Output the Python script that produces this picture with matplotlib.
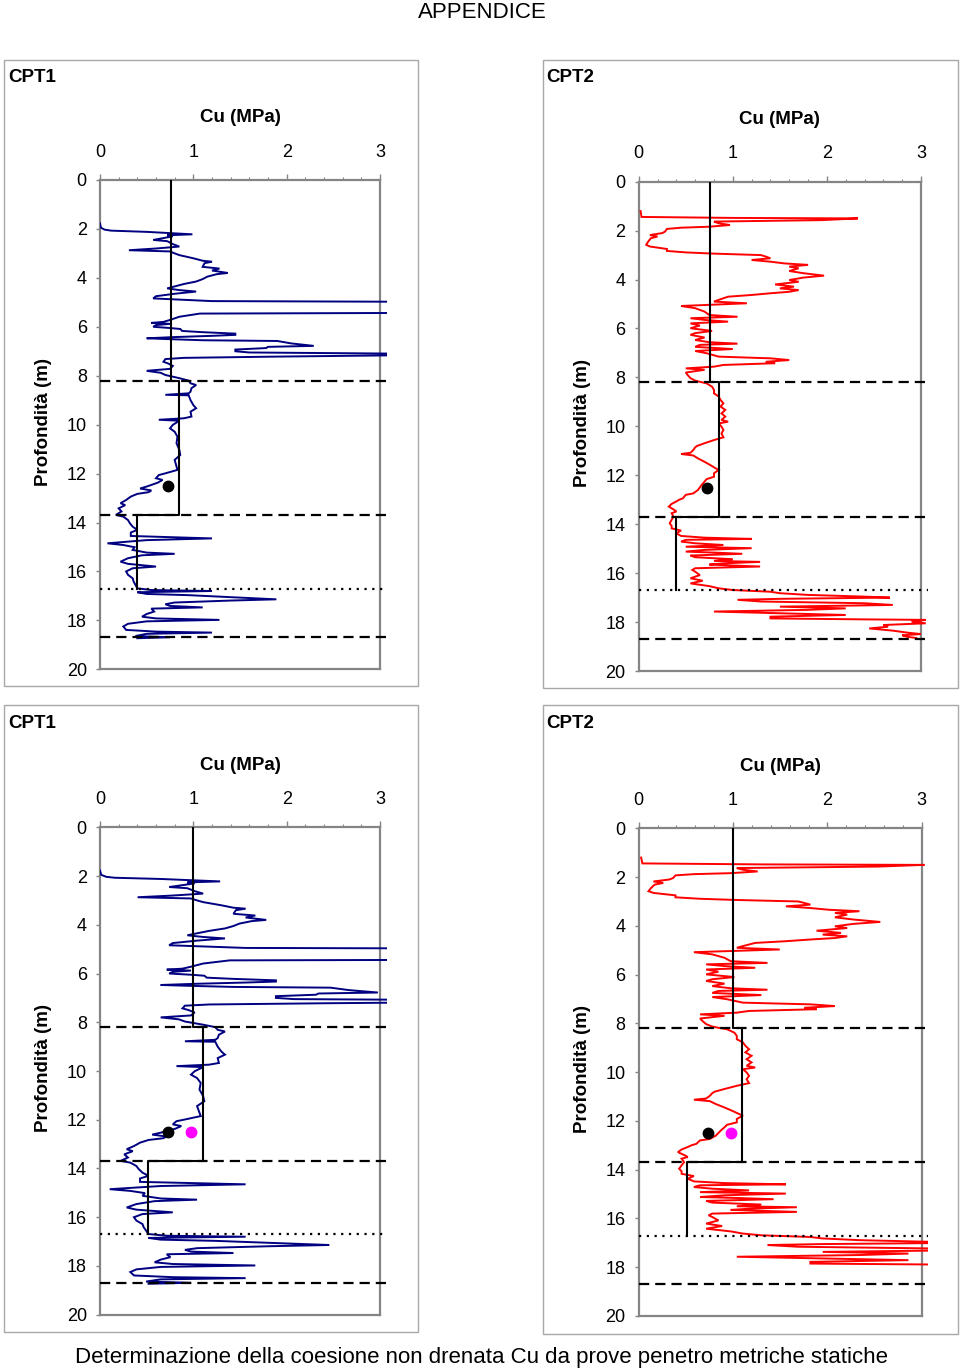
import matplotlib
matplotlib.use("Agg")
import matplotlib.pyplot as plt
import numpy as np

plt.rcParams['font.family'] = ['Liberation Sans', 'DejaVu Sans']

# ---------------- data ----------------
cpt1_depth = [1.77, 1.95, 2.03, 2.07, 2.12, 2.17, 2.22, 2.26, 2.3, 2.36, 2.45, 2.5, 2.62, 2.72, 2.8, 2.87,
              2.92, 3.0, 3.07, 3.2, 3.3, 3.34, 3.4, 3.55, 3.62, 3.7, 3.8, 3.85, 3.95, 4.05, 4.15, 4.25,
              4.35, 4.43, 4.5, 4.56, 4.65, 4.75, 4.84, 4.9, 4.95, 4.98, 5.2, 5.43, 5.46, 5.59, 5.72, 5.8,
              5.84, 5.88, 5.93, 6.0, 6.05, 6.09, 6.17, 6.22, 6.28, 6.33, 6.37, 6.42, 6.47, 6.5, 6.55, 6.58,
              6.62, 6.68, 6.78, 6.82, 6.87, 6.93, 7.0, 7.05, 7.1, 7.16, 7.22, 7.27, 7.32, 7.43, 7.5, 7.6,
              7.72, 7.8, 7.88, 7.97, 8.04, 8.1, 8.15, 8.2, 8.31, 8.38, 8.51, 8.65, 8.72, 8.78, 8.8, 9.0,
              9.2, 9.33, 9.47, 9.67, 9.74, 9.8, 9.84, 10.01, 10.15, 10.29, 10.49, 10.76, 11.03, 11.24, 11.44, 11.71,
              11.85, 11.99, 12.06, 12.19, 12.26, 12.37, 12.53, 12.61, 12.69, 12.76, 12.83, 12.94, 13.08, 13.21, 13.29, 13.42,
              13.55, 13.69, 13.76, 13.9, 14.03, 14.17, 14.3, 14.41, 14.55, 14.6, 14.65, 14.72, 14.78, 14.85, 14.92, 15.01,
              15.12, 15.23, 15.28, 15.34, 15.46, 15.6, 15.69, 15.8, 15.87, 16.0, 16.14, 16.28, 16.41, 16.55, 16.69, 16.76,
              16.8, 16.85, 16.92, 16.97, 17.05, 17.14, 17.19, 17.27, 17.34, 17.41, 17.47, 17.52, 17.64, 17.74, 17.85, 17.92,
              17.98, 18.04, 18.14, 18.25, 18.39, 18.46, 18.5, 18.55, 18.64, 18.69, 18.73]
cpt1_cu = [0.0, 0.01, 0.05, 0.12, 0.5, 0.75, 0.99, 0.72, 0.78, 0.7, 0.57, 0.72, 0.78, 0.85, 0.6, 0.31,
           0.75, 0.8, 0.85, 1.0, 1.1, 1.2, 1.12, 1.1, 1.28, 1.2, 1.37, 1.25, 1.15, 1.1, 1.03, 0.9,
           0.8, 0.72, 0.85, 1.03, 0.8, 0.6, 0.57, 0.9, 1.2, 3.5, 4.0, 3.6, 1.07, 0.85, 0.75, 0.68,
           0.55, 0.75, 0.6, 0.57, 0.75, 0.86, 0.88, 1.1, 1.45, 1.45, 1.2, 0.8, 0.5, 0.7, 1.1, 1.9,
           1.96, 2.05, 2.29, 1.8, 1.78, 1.45, 1.45, 1.6, 3.3, 3.3, 1.86, 0.9, 0.7, 0.68, 0.73, 0.78,
           0.75, 0.5, 0.65, 0.7, 0.78, 0.85, 0.9, 0.95, 0.97, 1.03, 0.98, 0.97, 0.95, 0.7, 0.95, 0.97,
           1.0, 1.03, 0.97, 0.98, 0.9, 0.63, 0.85, 0.78, 0.75, 0.8, 0.83, 0.82, 0.85, 0.86, 0.8, 0.82,
           0.83, 0.7, 0.63, 0.6, 0.67, 0.62, 0.5, 0.43, 0.55, 0.52, 0.4, 0.33, 0.28, 0.22, 0.27, 0.2,
           0.23, 0.17, 0.25, 0.3, 0.32, 0.35, 0.4, 0.33, 0.33, 0.75, 1.2, 0.5, 0.3, 0.08, 0.25, 0.37,
           0.35, 0.5, 0.8, 0.45, 0.3, 0.22, 0.3, 0.6, 0.35, 0.28, 0.3, 0.35, 0.36, 0.38, 0.4, 0.55,
           1.2, 0.4, 0.5, 0.95, 1.4, 1.89, 1.4, 0.8, 0.7, 0.75, 1.1, 0.55, 0.58, 0.5, 0.45, 0.6,
           1.28, 0.5, 0.3, 0.25, 0.28, 0.6, 1.2, 0.5, 0.38, 0.75, 0.4]

cpt2_depth = [1.2, 1.44, 1.48, 1.5, 1.57, 1.63, 1.7, 1.77, 1.84, 1.88, 1.93, 2.04, 2.1, 2.18, 2.24, 2.31,
              2.45, 2.58, 2.65, 2.75, 2.83, 2.89, 2.94, 3.0, 3.06, 3.13, 3.2, 3.27, 3.34, 3.4, 3.47, 3.54,
              3.65, 3.74, 3.81, 3.84, 3.92, 4.02, 4.09, 4.2, 4.29, 4.36, 4.43, 4.5, 4.56, 4.63, 4.7, 4.83,
              4.9, 4.97, 5.04, 5.08, 5.17, 5.24, 5.31, 5.45, 5.52, 5.58, 5.65, 5.72, 5.79, 5.88, 5.99, 6.1,
              6.19, 6.26, 6.37, 6.47, 6.56, 6.62, 6.67, 6.75, 6.84, 6.92, 7.01, 7.15, 7.22, 7.29, 7.36, 7.42,
              7.49, 7.56, 7.63, 7.69, 7.8, 7.9, 8.03, 8.13, 8.18, 8.24, 8.38, 8.51, 8.65, 8.78, 8.92, 9.06,
              9.19, 9.33, 9.47, 9.6, 9.74, 9.81, 9.88, 10.01, 10.15, 10.29, 10.45, 10.56, 10.69, 10.8, 10.86, 10.97,
              11.08, 11.13, 11.19, 11.31, 11.45, 11.58, 11.72, 11.78, 11.92, 12.06, 12.16, 12.26, 12.39, 12.6, 12.74, 12.8,
              12.94, 13.0, 13.07, 13.17, 13.28, 13.42, 13.48, 13.55, 13.69, 13.82, 13.96, 14.07, 14.17, 14.26, 14.37, 14.48,
              14.55, 14.6, 14.64, 14.71, 14.78, 14.85, 14.92, 14.98, 15.05, 15.12, 15.16, 15.21, 15.28, 15.35, 15.43, 15.5,
              15.54, 15.6, 15.65, 15.73, 15.8, 15.87, 15.94, 16.08, 16.21, 16.31, 16.42, 16.53, 16.62, 16.69, 16.76, 16.82,
              16.89, 16.96, 17.0, 17.05, 17.09, 17.16, 17.23, 17.3, 17.37, 17.44, 17.5, 17.57, 17.64, 17.71, 17.78, 17.85,
              17.89, 17.91, 17.98, 18.05, 18.12, 18.19, 18.26, 18.35, 18.43, 18.49, 18.54, 18.6, 18.65]
cpt2_cu = [0.02, 0.03, 1.0, 2.33, 1.95, 0.8, 0.85, 0.97, 0.75, 0.45, 0.3, 0.28, 0.25, 0.12, 0.2, 0.13,
           0.1, 0.08, 0.12, 0.3, 0.3, 0.5, 0.8, 1.3, 1.35, 1.4, 1.2, 1.4, 1.55, 1.8, 1.6, 1.7,
           1.6, 1.75, 1.9, 1.97, 1.75, 1.6, 1.7, 1.45, 1.65, 1.5, 1.7, 1.6, 1.4, 1.2, 0.95, 0.85,
           0.8, 1.15, 0.7, 0.45, 0.6, 0.65, 0.7, 0.75, 1.05, 0.55, 0.7, 0.95, 0.55, 0.65, 0.55, 0.78,
           0.6, 0.55, 0.7, 0.6, 0.75, 1.05, 0.65, 0.6, 1.0, 0.6, 0.72, 0.85, 1.4, 1.6, 1.35, 1.45,
           0.9, 0.8, 0.5, 0.7, 0.5, 0.52, 0.55, 0.6, 0.65, 0.72, 0.78, 0.8, 0.8, 0.85, 0.87, 0.9,
           0.87, 0.92, 0.88, 0.92, 0.88, 0.95, 0.85, 0.88, 0.9, 0.88, 0.9, 0.8, 0.7, 0.62, 0.6, 0.58,
           0.55, 0.45, 0.58, 0.63, 0.7, 0.76, 0.82, 0.85, 0.8, 0.8, 0.72, 0.7, 0.67, 0.63, 0.58, 0.5,
           0.47, 0.43, 0.4, 0.35, 0.32, 0.38, 0.4, 0.35, 0.37, 0.35, 0.33, 0.35, 0.35, 0.45, 0.4, 0.45,
           0.7, 1.2, 0.5, 0.45, 0.6, 0.9, 0.5, 1.2, 0.7, 0.5, 0.8, 1.1, 0.55, 0.6, 1.0, 0.8,
           1.29, 0.9, 0.75, 1.29, 0.6, 0.57, 0.6, 0.65, 0.55, 0.68, 0.55, 0.75, 0.85, 1.0, 1.4, 1.5,
           1.8, 2.4, 2.67, 1.5, 1.05, 1.3, 2.4, 2.7, 1.5, 2.2, 1.8, 0.8, 1.5, 2.2, 1.4, 1.4,
           2.4, 3.05, 2.9, 3.05, 2.6, 2.65, 2.45, 2.7, 2.85, 3.0, 2.8, 2.85, 2.95]

# second evaluation (bottom row) uses a lower cone factor: Cu scaled by this ratio
cu_ratio_bottom = 1.3

layer_bounds = [0, 8.2, 13.7, 16.7]
design_top = [0.76, 0.85, 0.40]
design_bottom = [1.0, 1.1, 0.51]
dashed_depths = [8.2, 13.7, 18.7]
dotted_depths = [16.7]

point_depth = 12.5
black_point = 0.73
magenta_point = 0.98

x_ticks = [0, 1, 2, 3]
y_ticks = list(range(0, 21, 2))
titles = ["CPT1", "CPT2", "CPT1", "CPT2"]

# ---------------- layout ----------------
W, H = 960, 1369
fig = plt.figure(figsize=(W / 100, H / 100), dpi=100)


def fx(x):
    return x / W


def fy(y):
    return 1 - y / H


panels = [
    dict(box=(4, 59.5, 418, 686), x0=100, x3=380, y0=180, y20=669.3, tY=76, prof=(cpt1_depth, cpt1_cu),
         col='#000080', scale=1.0, design=design_top, magenta=False),
    dict(box=(542.5, 59.5, 957.5, 688), x0=638.7, x3=921, y0=181.7, y20=671, tY=76, prof=(cpt2_depth, cpt2_cu),
         col='#ff0000', scale=1.0, design=design_top, magenta=False),
    dict(box=(4, 705, 418, 1332), x0=100, x3=380, y0=827.3, y20=1314.7, tY=722, prof=(cpt1_depth, cpt1_cu),
         col='#000080', scale=cu_ratio_bottom, design=design_bottom, magenta=True),
    dict(box=(542.5, 705, 957.5, 1333.5), x0=638.7, x3=921.7, y0=828.3, y20=1316, tY=722,
         prof=(cpt2_depth, cpt2_cu), col='#ff0000', scale=cu_ratio_bottom, design=design_bottom, magenta=True),
]

XMAX = 3.07
frame_col = '#858585'

for i, p in enumerate(panels):
    # outer box
    bx0, by0, bx1, by1 = p['box']
    rect = plt.Rectangle((fx(bx0), fy(by1)), fx(bx1 - bx0), (by1 - by0) / H, transform=fig.transFigure,
                         fill=False, edgecolor='#a8a8a8', linewidth=1.0)
    fig.add_artist(rect)

    pxw = (p['x3'] - p['x0']) / 3.0 * XMAX
    ax = fig.add_axes([fx(p['x0']), fy(p['y20']), pxw / W, (p['y20'] - p['y0']) / H])
    ax.set_xlim(0, XMAX)
    ax.set_ylim(20, 0)

    for s in ['top', 'bottom', 'left', 'right']:
        ax.spines[s].set_color(frame_col)
        ax.spines[s].set_linewidth(1.6)
        ax.spines[s].set_zorder(1)
    ax.spines['top'].set_bounds(0, 3)
    ax.spines['bottom'].set_bounds(0, 3)
    ax.spines['right'].set_position(('data', 3))

    ax.xaxis.tick_top()
    ax.set_xticks(x_ticks)
    ax.set_xticks(np.arange(0, 3.01, 0.2), minor=True)
    ax.set_yticks(y_ticks)
    ax.tick_params(axis='x', which='major', direction='out', length=4, width=1, color=frame_col,
                   labelsize=13, pad=10, top=True, bottom=False)
    ax.tick_params(axis='x', which='minor', direction='out', length=2.5, width=0.8, color=frame_col,
                   top=True, bottom=False)
    ax.tick_params(axis='y', which='major', direction='out', length=3, width=1, color=frame_col,
                   labelsize=13, pad=6.5)

    d, c = p['prof']
    cu = np.array(c) * p['scale']
    ax.plot(cu, d, color=p['col'], lw=1.4, zorder=3, solid_joinstyle='miter')

    # design step line
    xs, ys = [], []
    for k, v in enumerate(p['design']):
        xs += [v, v]
        ys += [layer_bounds[k], layer_bounds[k + 1]]
    ax.plot(xs, ys, color='black', lw=1.5, zorder=4)

    for dd in dashed_depths:
        ax.axhline(dd, color='black', lw=1.6, linestyle=(0, (4.6, 2.7)), zorder=4)
    for dd in dotted_depths:
        ax.axhline(dd, color='black', lw=1.6, linestyle=(0, (1.0, 2.5)), zorder=4)

    ax.plot([black_point], [point_depth], 'o', color='black', ms=7.5, zorder=5)
    if p['magenta']:
        ax.plot([magenta_point], [point_depth], 'o', color='#ff00ff', ms=7.5, zorder=5)

    # texts
    fig.text(fx(bx0 + 4), fy(p['tY'] + 2), titles[i], fontsize=13.5, fontweight='bold', ha='left', va='center')
    fig.text(fx((p['x0'] + p['x3']) / 2), fy(p['y0'] - 62), "Cu (MPa)", fontsize=13.5, fontweight='bold',
             ha='center', va='center')
    fig.text(fx(p['x0'] - 56), fy((p['y0'] + p['y20']) / 2 - 3), "Profondità (m)", fontsize=13.5,
             fontweight='bold', rotation=90, ha='center', va='center')

fig.text(fx(482), fy(13), "APPENDICE", fontsize=16, ha='center', va='center')
fig.text(fx(481), fy(1358), "Determinazione della coesione non drenata Cu da prove penetro metriche statiche",
         fontsize=16, ha='center', va='center')

fig.savefig("out.png", dpi=100)
